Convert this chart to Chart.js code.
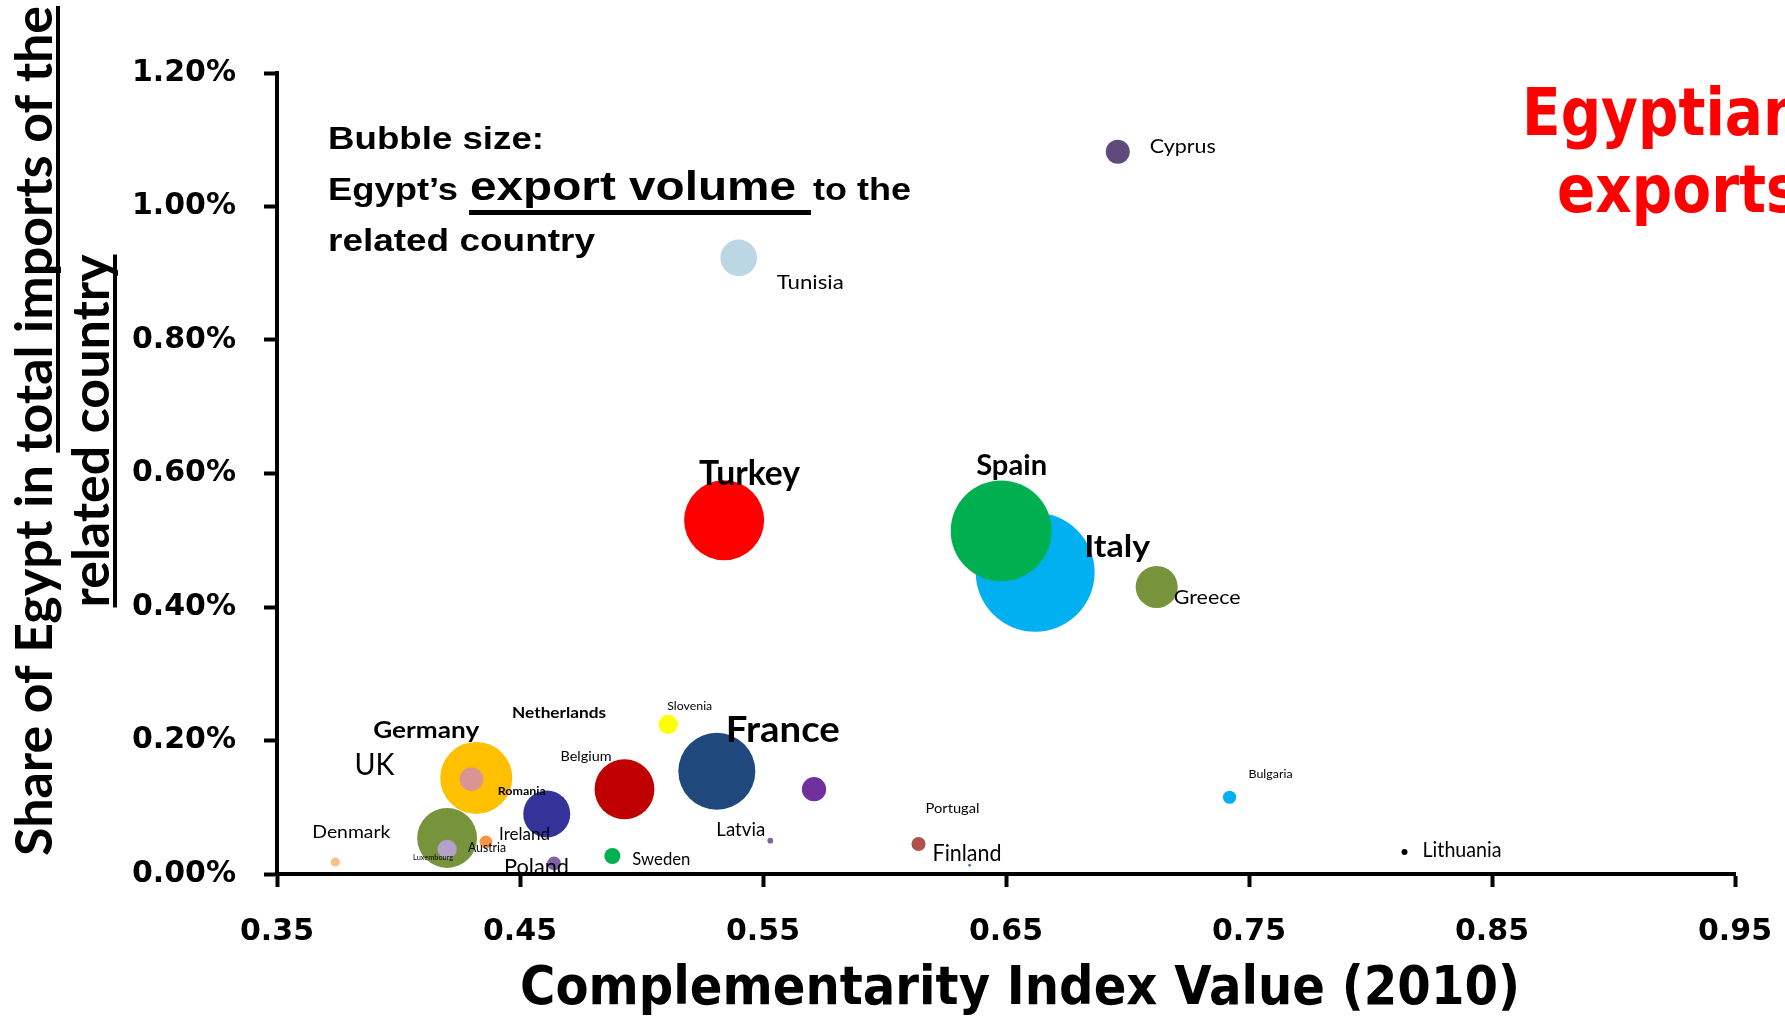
<!DOCTYPE html>
<html>
<head>
<meta charset="utf-8">
<script src="https://cdn.jsdelivr.net/npm/chart.js@4.4.1/dist/chart.umd.min.js"></script>
<style>
  html, body { margin: 0; padding: 0; background: #fff; }
  canvas { display: block; }
</style>
</head>
<body>
<canvas id="chart" width="1785" height="1019"></canvas>
<script>
// Values (draw order: big ones behind small ones)
const countries = ['Cyprus', 'Tunisia', 'Turkey', 'Italy', 'Spain', 'Greece', 'Germany', 'UK',
  'Netherlands', 'Luxembourg', 'Denmark', 'Austria', 'Romania', 'Belgium', 'France', 'Slovenia',
  'Ireland', 'Latvia', 'Sweden', 'Poland', 'Portugal', 'Finland', 'Bulgaria', 'Lithuania'];
// Complementarity index value (2010)
const complementarity = [0.696, 0.540, 0.534, 0.662, 0.648, 0.712, 0.432, 0.430,
  0.420, 0.420, 0.374, 0.436, 0.461, 0.493, 0.531, 0.511,
  0.571, 0.553, 0.488, 0.464, 0.614, 0.635, 0.742, 0.814];
// Share of Egypt in total imports of the related country (%)
const importShare = [1.082, 0.923, 0.530, 0.452, 0.514, 0.430, 0.144, 0.142,
  0.054, 0.037, 0.018, 0.048, 0.090, 0.127, 0.154, 0.224,
  0.127, 0.050, 0.027, 0.016, 0.045, 0.013, 0.115, 0.033];
// Egypt's export volume to the country (relative units, bubble area)
const exportVolume = [9, 21, 100, 221, 159, 27.6, 81, 8.7,
  56, 5.8, 1.3, 2.6, 34.5, 56, 92.6, 5.8,
  9.2, 0.53, 4, 2.9, 3.1, 0.14, 2.7, 0.56];
const xTickValues = [0.35, 0.45, 0.55, 0.65, 0.75, 0.85, 0.95];
const yTickValues = [0, 0.2, 0.4, 0.6, 0.8, 1.0, 1.2];

const bubbleColors = ['#604A7B', '#BAD7E3', '#FF0000', '#00B0F0', '#00B050', '#77933C', '#FFC000', '#D99594',
  '#77933C', '#B3A2C7', '#FABF8F', '#F79646', '#333399', '#C00000', '#1F497D', '#FFFF00',
  '#7030A0', '#8064A2', '#00B050', '#8064A2', '#B0504B', '#4F81BD', '#00B0F0', '#000000'];

// data label placement: pixel offset of label (left, cap-middle) from bubble centre
const labelStyle = {
  Cyprus:      { dx: 32,   dy: -6,   size: 20, w: 66 },
  Tunisia:     { dx: 38,   dy: 24,   size: 19, w: 67 },
  Turkey:      { dx: -25,  dy: -47,  size: 34, w: 101, bold: true },
  Italy:       { dx: 49,   dy: -26,  size: 30, w: 66,  bold: true },
  Spain:       { dx: -25,  dy: -66,  size: 28, w: 71,  bold: true },
  Greece:      { dx: 17,   dy: 10,   size: 20, w: 67 },
  Germany:     { dx: -103, dy: -48,  size: 23, w: 106, bold: true },
  UK:          { dx: -117, dy: -15,  size: 31, w: 40 },
  Netherlands: { dx: 65,   dy: -126, size: 16, w: 94,  bold: true },
  Luxembourg:  { dx: -34,  dy: 8,    size: 8,  w: 40 },
  Denmark:     { dx: -23,  dy: -30,  size: 18, w: 78 },
  Austria:     { dx: -18,  dy: 5,    size: 14, w: 38 },
  Romania:     { dx: -49,  dy: -23,  size: 11.5, w: 48, bold: true },
  Belgium:     { dx: -64,  dy: -33,  size: 14, w: 51 },
  France:      { dx: 9,    dy: -43,  size: 37, w: 114, bold: true },
  Slovenia:    { dx: -1,   dy: -19,  size: 11.5, w: 45 },
  Ireland:     { dx: -315, dy: 44,   size: 17.5, w: 51 },
  Latvia:      { dx: -54,  dy: -11,  size: 19, w: 49 },
  Sweden:      { dx: 20,   dy: 3,    size: 17, w: 58 },
  Poland:      { dx: -50,  dy: 3,    size: 21, w: 65 },
  Portugal:    { dx: 7,    dy: -36,  size: 14, w: 54 },
  Finland:     { dx: -37,  dy: -13,  size: 23, w: 69 },
  Bulgaria:    { dx: 19,   dy: -24,  size: 12, w: 44 },
  Lithuania:   { dx: 18,   dy: -3,   size: 21, w: 79 }
};

const RADIUS_SCALE = 4;

function fitText(ctx, text, x, y, w, font, align) {
  ctx.font = font;
  const m = ctx.measureText(text).width;
  ctx.save();
  ctx.translate(x, y);
  ctx.scale(w / m, 1);
  ctx.textAlign = align || 'left';
  ctx.textBaseline = 'alphabetic';
  ctx.fillText(text, 0, 0);
  ctx.restore();
}

const annotations = {
  id: 'annotations',
  afterDraw(chart) {
    const ctx = chart.ctx;
    const pts = chart.getDatasetMeta(0).data;
    ctx.save();
    ctx.fillStyle = '#000';

    // data labels
    countries.forEach((name, i) => {
      const s = labelStyle[name];
      const p = pts[i];
      const font = (s.bold ? 'bold ' : '') + s.size + 'px Lato';
      fitText(ctx, name, p.x + s.dx, p.y + s.dy + s.size * 0.36, s.w, font);
    });

    // bubble size note
    const arial = 'bold 31px "Liberation Sans"';
    fitText(ctx, 'Bubble size:', 328, 149, 216, arial);
    fitText(ctx, 'Egypt\u2019s', 328, 200, 130, arial);
    fitText(ctx, 'export volume', 470, 200, 326, 'bold 40px "Liberation Sans"');
    ctx.fillRect(469, 210, 342, 5);
    fitText(ctx, 'to the', 813, 200, 98, arial);
    fitText(ctx, 'related country', 328, 251, 267, arial);

    // red title, runs off the right edge
    ctx.fillStyle = '#FF0000';
    const tfont = 'bold 65px "DejaVu Sans"';
    ctx.font = tfont;
    const sq = 0.87;
    fitText(ctx, 'Egyptian', 1522, 135, ctx.measureText('Egyptian').width * sq, tfont);
    ctx.font = tfont;
    fitText(ctx, 'exports', 1557, 212, ctx.measureText('exports').width * sq, tfont);

    // x axis title
    ctx.fillStyle = '#000';
    fitText(ctx, 'Complementarity Index Value (2010)', 1020, 1004, 1000, 'bold 54px "DejaVu Sans"', 'center');

    // y axis title, two rotated lines with underlines
    const yfont = 'bold 52px Lato';
    ctx.font = yfont;
    const l1a = 'Share of Egypt in ', l1b = 'total imports of the', l2 = 'related country';
    const wa = ctx.measureText(l1a).width, wb = ctx.measureText(l1b).width;
    const w2 = ctx.measureText(l2).width;
    const k = 850 / (wa + wb);
    const cy = 431;
    ctx.save();
    ctx.translate(52, cy);
    ctx.rotate(-Math.PI / 2);
    ctx.scale(k, 1);
    ctx.textAlign = 'left';
    ctx.textBaseline = 'alphabetic';
    const x0 = -(wa + wb) / 2;
    ctx.fillText(l1a + l1b, x0, 0);
    ctx.fillRect(x0 + wa, 4, wb, 4);
    ctx.restore();
    ctx.save();
    ctx.translate(109, cy);
    ctx.rotate(-Math.PI / 2);
    ctx.scale(k, 1);
    ctx.textAlign = 'left';
    ctx.textBaseline = 'alphabetic';
    ctx.fillText(l2, -w2 / 2, 0);
    ctx.fillRect(-w2 / 2, 4, w2, 4);
    ctx.restore();

    ctx.restore();
  }
};

const axisCommon = {
  border: { color: '#000', width: 4 },
  grid: { drawOnChartArea: false, drawTicks: true, tickLength: 13, tickWidth: 4, tickColor: '#000', color: '#000' },
};

new Chart(document.getElementById('chart'), {
  type: 'bubble',
  data: {
    datasets: [{
      data: countries.map((c, i) => ({ x: complementarity[i], y: importShare[i], r: Math.sqrt(exportVolume[i]) * RADIUS_SCALE })),
      backgroundColor: bubbleColors,
      borderWidth: 0,
      clip: false
    }]
  },
  plugins: [annotations],
  options: {
    responsive: false,
    animation: false,
    events: [],
    layout: { autoPadding: false, padding: { top: 73, right: 50, left: 0, bottom: 0 } },
    plugins: { legend: { display: false }, tooltip: { enabled: false } },
    scales: {
      x: {
        ...axisCommon,
        type: 'linear',
        min: 0.35, max: 0.95,
        afterBuildTicks: s => { s.ticks = xTickValues.map(v => ({ value: v })); },
        afterFit: s => { s.height = 145; s.paddingLeft = 0; s.paddingRight = 0; },
        ticks: {
          color: '#000', padding: 27, maxRotation: 0, autoSkip: false,
          font: { family: 'DejaVu Sans', weight: 'bold', size: 30 },
          callback: v => v.toFixed(2)
        }
      },
      y: {
        ...axisCommon,
        type: 'linear',
        min: 0, max: 1.2,
        afterBuildTicks: s => { s.ticks = yTickValues.map(v => ({ value: v })); },
        afterFit: s => { s.width = 277; s.paddingTop = 0; s.paddingBottom = 0; },
        ticks: {
          color: '#000', padding: 28, autoSkip: false,
          font: { family: 'DejaVu Sans', weight: 'bold', size: 30 },
          callback: v => v.toFixed(2) + '%'
        }
      }
    }
  }
});
</script>
</body>
</html>
